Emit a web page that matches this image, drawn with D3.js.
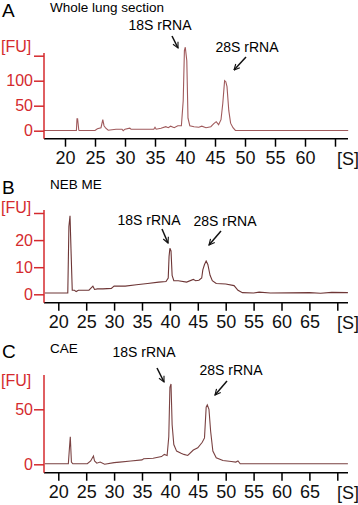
<!DOCTYPE html>
<html lang="en">
<style>
  body { margin: 0; background: #fff; }
  text { font-family: "Liberation Sans", Arial, sans-serif; }
</style>
<body>
<script src="https://cdn.jsdelivr.net/npm/d3@7"></script>
<div id="vis"></div>
<script>

// Panel A - whole lung section
var sizeA = [16.5, 21.9, 22.0, 22.1, 22.3, 22.4, 25.0, 25.4, 26.0, 26.3, 26.5, 26.8, 27.2, 28.5, 29.5, 29.7, 30.0, 30.8, 31.0, 34.8, 35.0, 35.2, 36.0, 36.8, 37.2, 37.6, 38.2, 38.8, 39.4, 39.7, 39.9, 40.05, 40.3, 40.5, 40.8, 41.5, 42.3, 42.8, 43.5, 44.3, 44.8, 45.2, 45.6, 46.0, 46.3, 46.6, 46.8, 47.0, 47.3, 47.6, 48.0, 48.4, 67.2];
var fuA   = [0.5, 0.5, 24, 24, 1, 0.5, 0.5, 4, 6, 22, 10, 5, 1, 3, 3, 0, 3, 5, 3, 3, 7, 3, 5, 8, 6, 9, 6, 10, 10, 60, 160, 167, 140, 25, 10, 8, 7, 9, 6, 8, 14, 18, 12, 22, 55, 100, 98, 88, 40, 15, 6, 0.5, 0.5];

// Panel B - NEB ME
var sizeB = [17.6, 21.7, 21.9, 22.1, 22.3, 22.5, 22.9, 23.2, 23.6, 25.5, 26.2, 26.5, 27.0, 28.0, 29.5, 30.0, 32.0, 34.0, 36.0, 38.0, 39.3, 39.7, 39.85, 40.0, 40.2, 40.4, 40.7, 41.5, 43.0, 44.2, 44.6, 45.2, 45.7, 45.9, 46.2, 46.5, 46.8, 47.2, 47.6, 48.3, 50.0, 51.5, 52.2, 53.0, 55.0, 56.0, 58.0, 65.0, 67.0, 69.0, 71.9];
var fuB   = [0.5, 0.5, 25, 29, 15, 1.5, 1.5, 1, 1.5, 1.5, 3, 1.8, 2, 2, 2.2, 3, 3, 3.5, 4, 4.5, 4.7, 6, 14, 17, 16, 7, 5, 5, 4.5, 5.5, 5, 5.2, 6, 9, 11, 12.3, 11, 7, 5, 4, 3.8, 3.2, 1.5, 0.6, 0.5, 0.8, 0.5, 0.6, 0.4, 0.7, 0.6];

// Panel C - CAE
var sizeC = [17.6, 21.8, 22.0, 22.15, 22.35, 22.6, 25.2, 25.8, 26.3, 26.5, 26.9, 27.5, 28.3, 30.0, 31.0, 33.0, 35.0, 35.3, 37.0, 38.5, 39.0, 39.5, 39.8, 40.0, 40.2, 40.4, 40.7, 41.2, 42.0, 42.5, 43.2, 44.2, 45.0, 45.8, 46.2, 46.5, 46.7, 47.0, 47.3, 47.7, 48.3, 49.5, 51.0, 51.8, 52.2, 52.6, 71.9];
var fuC   = [0.5, 0.5, 15, 25, 2, 0.5, 0.5, 3, 7.5, 3, 1, 2, 0, 1.5, 2, 3, 4, 5, 5.5, 7, 9, 8, 25, 70, 73, 36, 18, 12, 10, 9, 8, 13, 15, 20, 24, 52, 54, 50, 30, 12, 6, 3.5, 2.5, 2, 3, 0.5, 0.5];

var xTicksA = [20, 25, 30, 35, 40, 45, 50, 55, 60, 65];
var xTicksBC = [20, 25, 30, 35, 40, 45, 50, 55, 60, 65, 70];
var yTicksA = [0, 50, 100, 150];
var yTicksB = [0, 10, 20, 30];
var yTicksC = [0, 50];

var red = "#d42a2e";

var svg = d3.select("#vis").append("svg")
    .attr("width", 358)
    .attr("height", 505);

var panels = [
  {letter: "A", title: "Whole lung section", xs: sizeA, ys: fuA, xTicks: xTicksA, yTicks: yTicksA,
   xDom: [20, 65], xRng: [65, 335], yDom: [0, 150], yRng: [130.7, 55.7],
   axisTop: 53, axisY: 138.7, top: 0, fuY: 52, traceCol: "#a05a5c",
   lab18: [160, 30], arr18: [[172, 36], [178, 48]],
   lab28: [247, 52], arr28: [[246, 57], [234, 70]]},
  {letter: "B", title: "NEB ME", xs: sizeB, ys: fuB, xTicks: xTicksBC, yTicks: yTicksB,
   xDom: [20, 70], xRng: [58.3, 337.3], yDom: [0, 30], yRng: [294.3, 213],
   axisTop: 210, axisY: 302.7, top: 177, fuY: 213, traceCol: "#6e3636",
   lab18: [149, 225], arr18: [[162, 229], [168, 243]],
   lab28: [225, 226], arr28: [[221, 231], [209, 245]]},
  {letter: "C", title: "CAE", xs: sizeC, ys: fuC, xTicks: xTicksBC, yTicks: yTicksC,
   xDom: [20, 70], xRng: [58.3, 337.3], yDom: [0, 50], yRng: [464.3, 409.3],
   axisTop: 375, axisY: 472.7, top: 341, fuY: 386, traceCol: "#7a4242",
   lab18: [144, 357], arr18: [[157, 368], [164, 382]],
   lab28: [231, 375], arr28: [[227, 381], [215, 395]]}
];

svg.append("defs").append("marker")
    .attr("id", "head")
    .attr("viewBox", "0 0 10 10")
    .attr("refX", 9).attr("refY", 5)
    .attr("markerWidth", 7).attr("markerHeight", 7)
    .attr("markerUnits", "userSpaceOnUse")
    .attr("orient", "auto")
  .append("path")
    .attr("d", "M1,1 L9,5 L1,9")
    .attr("fill", "none")
    .attr("stroke", "#111")
    .attr("stroke-width", 1.6);

panels.forEach(function(p) {
  var x = d3.scaleLinear().domain(p.xDom).range(p.xRng);
  var y = d3.scaleLinear().domain(p.yDom).range(p.yRng);
  var g = svg.append("g");

  // panel letter and sample name
  g.append("text").attr("x", 2).attr("y", p.top + 17)
    .attr("font-size", "19px").text(p.letter);
  g.append("text").attr("x", 50).attr("y", p.top + 12)
    .attr("font-size", "13.5px").text(p.title);

  // trace
  var pts = d3.zip(p.xs, p.ys);
  g.append("path")
    .datum(pts)
    .attr("fill", "none")
    .attr("stroke", p.traceCol)
    .attr("stroke-width", 1.1)
    .attr("d", d3.line().x(function(d){ return x(d[0]); }).y(function(d){ return y(d[1]); }));

  // x axis
  var xa = g.append("g")
    .attr("transform", "translate(0," + p.axisY + ")")
    .call(d3.axisBottom(x).tickValues(p.xTicks).tickSize(8).tickPadding(5)
      .tickFormat(function(d, i){ return i == p.xTicks.length - 1 ? "" : d; }));
  xa.select(".domain").attr("d", "M44,0H348").attr("stroke", "#000").attr("stroke-width", 1.5);
  xa.selectAll(".tick line").attr("stroke", "#000").attr("stroke-width", 1.5);
  xa.selectAll(".tick text").attr("font-size", "18px").attr("font-family", "Liberation Sans").attr("fill", "#111");
  g.append("text").attr("x", 348).attr("y", p.axisY + 8 + 5 + 13)
    .attr("text-anchor", "middle").attr("font-size", "18px").attr("fill", "#111").text("[S]");

  // y axis
  var ya = g.append("g")
    .attr("transform", "translate(44,0)")
    .call(d3.axisLeft(y).tickValues(p.yTicks).tickSize(10).tickPadding(1)
      .tickFormat(function(d, i){ return (p.yTicks.length > 2 && i == p.yTicks.length - 1) ? "" : d; }));
  ya.select(".domain").attr("d", "M0," + p.axisTop + "V" + p.axisY).attr("stroke", red).attr("stroke-width", 1.5);
  ya.selectAll(".tick line").attr("stroke", red).attr("stroke-width", 1.5);
  ya.selectAll(".tick text").attr("font-size", "16px").attr("font-family", "Liberation Sans").attr("fill", red);
  g.append("text").attr("x", 1).attr("y", p.fuY)
    .attr("font-size", "16px").attr("fill", red).text("[FU]");

  // peak annotations
  g.append("text").attr("x", p.lab18[0]).attr("y", p.lab18[1])
    .attr("text-anchor", "middle").attr("font-size", "14px").text("18S rRNA");
  g.append("text").attr("x", p.lab28[0]).attr("y", p.lab28[1])
    .attr("text-anchor", "middle").attr("font-size", "14px").text("28S rRNA");
  [p.arr18, p.arr28].forEach(function(a) {
    g.append("line")
      .attr("x1", a[0][0]).attr("y1", a[0][1]).attr("x2", a[1][0]).attr("y2", a[1][1])
      .attr("stroke", "#111").attr("stroke-width", 1.5)
      .attr("marker-end", "url(#head)");
  });
});

</script>
</body>
</html>
